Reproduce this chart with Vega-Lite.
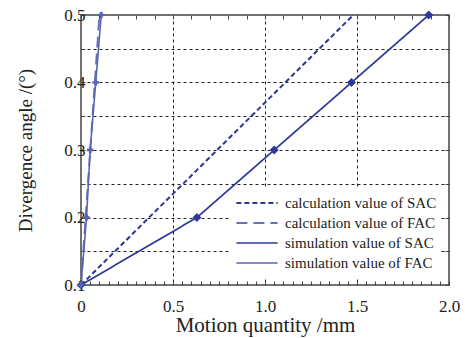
{
  "$schema": "https://vega.github.io/schema/vega-lite/v6.json",
  "autosize": "none",
  "width": 368,
  "height": 270,
  "padding": {"left": 81, "top": 15, "right": 26, "bottom": 53},
  "background": "white",
  "config": {
    "view": {"stroke": "#444", "strokeWidth": 1.5},
    "font": "Liberation Serif",
    "axis": {"labelFont": "Liberation Serif", "titleFont": "Liberation Serif", "labelColor": "#222", "titleColor": "#222", "titleFontWeight": "normal", "domain": false}
  },
  "data": {"values": [
    {"x": 0, "y": 0.1, "series": "calculation value of SAC"},
    {"x": 1.48, "y": 0.5, "series": "calculation value of SAC"},
    {"x": 0, "y": 0.1, "series": "calculation value of FAC"},
    {"x": 0.1, "y": 0.5, "series": "calculation value of FAC"},
    {"x": 0, "y": 0.1, "series": "simulation value of SAC"},
    {"x": 0.63, "y": 0.2, "series": "simulation value of SAC"},
    {"x": 1.05, "y": 0.3, "series": "simulation value of SAC"},
    {"x": 1.47, "y": 0.4, "series": "simulation value of SAC"},
    {"x": 1.89, "y": 0.5, "series": "simulation value of SAC"},
    {"x": 0, "y": 0.1, "series": "simulation value of FAC"},
    {"x": 0.03, "y": 0.2, "series": "simulation value of FAC"},
    {"x": 0.05, "y": 0.3, "series": "simulation value of FAC"},
    {"x": 0.08, "y": 0.4, "series": "simulation value of FAC"},
    {"x": 0.11, "y": 0.5, "series": "simulation value of FAC"}
  ]},
  "resolve": {"axis": {"x": "independent", "y": "independent"}},
  "layer": [
    {
      "mark": {"type": "line", "clip": true},
      "encoding": {
        "x": {"field": "x", "type": "quantitative", "scale": {"domain": [0, 2], "nice": false, "zero": false},
          "axis": {
            "values": [0,0.05,0.1,0.15,0.2,0.25,0.3,0.35,0.4,0.45,0.5,0.55,0.6,0.65,0.7,0.75,0.8,0.85,0.9,0.95,1,1.05,1.1,1.15,1.2,1.25,1.3,1.35,1.4,1.45,1.5,1.55,1.6,1.65,1.7,1.75,1.8,1.85,1.9,1.95,2],
            "labelExpr": "round(datum.value*100) % 50 == 0 ? (datum.value == 0 ? '0' : format(datum.value, '.1f')) : ''",
            "title": "Motion quantity /mm", "titleFontSize": 21, "titlePadding": 0,
            "labelFontSize": 17, "labelPadding": 17, "labelFlush": false,
            "grid": true, "gridColor": "#222", "gridDash": [3, 3], "gridWidth": 1,
            "gridOpacity": {"condition": {"test": "round(datum.value*100) % 50 == 0 && datum.value > 0 && datum.value < 2", "value": 1}, "value": 0},
            "tickSize": -4, "tickColor": "#444", "tickWidth": 1
          }},
        "y": {"field": "y", "type": "quantitative", "scale": {"domain": [0.1, 0.5], "nice": false, "zero": false},
          "axis": {
            "values": [0.1,0.15,0.2,0.25,0.3,0.35,0.4,0.45,0.5],
            "labelExpr": "round(datum.value*100) % 10 == 0 ? format(datum.value, '.1f') : ''",
            "title": "Divergence angle /(°)", "titleFontSize": 19, "titlePadding": 28,
            "labelFontSize": 17, "labelPadding": 0,
            "grid": true, "gridColor": "#222", "gridDash": [3, 3], "gridWidth": 1,
            "gridOpacity": {"condition": {"test": "datum.value > 0.11 && datum.value < 0.49", "value": 1}, "value": 0},
            "tickSize": -4, "tickColor": "#444"
          }},
        "color": {"field": "series", "type": "nominal",
          "scale": {"domain": ["calculation value of SAC", "calculation value of FAC", "simulation value of SAC", "simulation value of FAC"],
                    "range": ["#2c3590", "#6a6fb6", "#2e3a96", "#5a64b4"]},
          "legend": {"title": null, "orient": "none", "legendX": 150, "legendY": 174, "fillColor": "white",
                     "labelFont": "Liberation Serif", "labelFontSize": 15, "labelColor": "#222",
                     "symbolType": "stroke", "symbolSize": 1700, "clipHeight": 20, "rowPadding": 0, "padding": 4, "labelOffset": 6}},
        "strokeDash": {"field": "series", "type": "nominal",
          "scale": {"domain": ["calculation value of SAC", "calculation value of FAC", "simulation value of SAC", "simulation value of FAC"],
                    "range": [[5, 3], [11, 6], [1, 0], [1, 0]]}},
        "strokeWidth": {"field": "series", "type": "nominal",
          "scale": {"domain": ["calculation value of SAC", "calculation value of FAC", "simulation value of SAC", "simulation value of FAC"],
                    "range": [2, 1.6, 2.4, 1.4]}, "legend": null}
      }
    },
    {
      "transform": [{"filter": "indexof(datum.series, 'simulation') == 0"}],
      "mark": {"type": "point", "filled": true, "opacity": 1, "clip": false},
      "encoding": {
        "x": {"field": "x", "type": "quantitative",
          "axis": {"orient": "top", "values": [0,0.1,0.2,0.3,0.4,0.5,0.6,0.7,0.8,0.9,1,1.1,1.2,1.3,1.4,1.5,1.6,1.7,1.8,1.9,2], "labels": false, "title": null, "grid": false, "tickSize": -4, "tickColor": "#444"}},
        "y": {"field": "y", "type": "quantitative",
          "axis": {"orient": "right", "values": [0.1,0.15,0.2,0.25,0.3,0.35,0.4,0.45,0.5], "labels": false, "title": null, "grid": false, "tickSize": -4, "tickColor": "#444"}},
        "shape": {"field": "series", "type": "nominal",
          "scale": {"domain": ["simulation value of SAC", "simulation value of FAC"], "range": ["diamond", "cross"]}, "legend": null},
        "size": {"field": "series", "type": "nominal",
          "scale": {"domain": ["simulation value of SAC", "simulation value of FAC"], "range": [80, 45]}, "legend": null},
        "color": {"field": "series", "type": "nominal"}
      }
    }
  ]
}
